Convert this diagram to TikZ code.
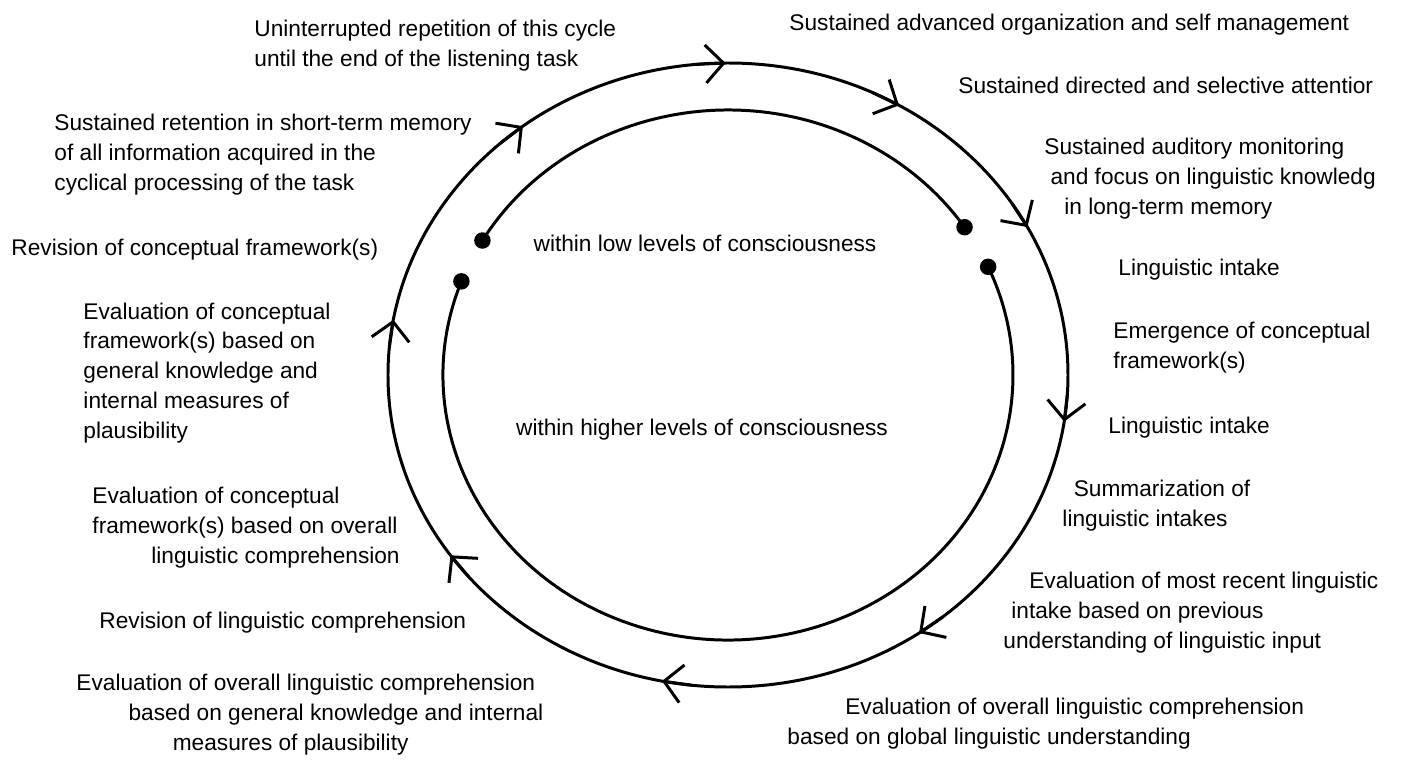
\documentclass[tikz,border=0pt]{standalone}
\usepackage{fontspec}
\setmainfont{Liberation Sans}
\usetikzlibrary{arrows.meta}

\tikzset{
  note/.style={font=\fontsize{12.9}{17}\selectfont, inner sep=0pt, align=left, anchor=west},
  dot/.style={circle, fill, inner sep=0pt, minimum size=3.3mm},
  flow/.style={-{Straight Barb[length=3.6mm, width=7.6mm]}},
}

\begin{document}
\begin{tikzpicture}[x=0.2mm, y=0.2mm, line width=1.7pt, line cap=round]

  \useasboundingbox (-728, 375) rectangle (675, -385);

  % Outer cycle
  \draw (0, 0) coordinate (orig) ellipse [x radius=340, y radius=312];
  \foreach \a in {90.4, 59.8, 28.3, -8.6, -55.8, -101.2, -144.7, 169.8, 127.1}
    \draw[flow] (\a+5:340 and 312) -- (\a:340 and 312);

  % Inner cycles
  \node[dot] (lowA) at (149.5:285 and 265) {};
  \node[dot] (lowB) at (33.9:285 and 265) {};
  \node[dot] (highA) at (159.3:285 and 265) {};
  \node[dot] (highB) at (24.1:285 and 265) {};
  \draw (lowA.center) arc[start angle=149.5, end angle=33.9, x radius=285, y radius=265];
  \draw (highA.center) arc[start angle=159.3, end angle=384.1, x radius=285, y radius=265];

  \node[note, anchor=center] (low) at (-23, 132) {within low levels of consciousness};
  \node[note, anchor=center] (higher) at (-26, -55) {within higher levels of consciousness};

  % Left side
  \node[note] (repeat) at (-475, 329) {Uninterrupted repetition of this cycle\\until the end of the listening task};
  \node[note] (retain) at (-675, 220) {Sustained retention in short-term memory\\of all information acquired in the\\cyclical processing of the task};
  \node[note] (revconc) at (-718, 125) {Revision of conceptual framework(s)};
  \node[note] (evalgen) at (-646, 2) {Evaluation of conceptual\\framework(s) based on\\general knowledge and\\internal measures of\\plausibility};
  \node[note] (evalcomp) at (-637, -153) {Evaluation of conceptual\\framework(s) based on overall\\\hspace*{2.6em}linguistic comprehension};
  \node[note] (revling) at (-630, -248) {Revision of linguistic comprehension};
  \node[note] (evalplaus) at (-653, -340) {Evaluation of overall linguistic comprehension\\\hspace*{2.3em}based on general knowledge and internal\\\hspace*{4.25em}measures of plausibility};

  % Right side
  \node[note] (advanced) at (60, 350) {Sustained advanced organization and self management};
  \node[note] (directed) at (229, 290) {Sustained directed and selective attentior};
  \node[note] (auditory) at (315, 196) {Sustained auditory monitoring\\\hspace*{0.27em}and focus on linguistic knowledg\\\hspace*{0.88em}in long-term memory};
  \node[note] (intakeA) at (389, 105) {Linguistic intake};
  \node[note] (emerge) at (384, 27) {Emergence of conceptual\\framework(s)};
  \node[note] (intakeB) at (379, -53) {Linguistic intake};
  \node[note] (summary) at (333, -131) {\hspace*{0.5em}Summarization of\\linguistic intakes};
  \node[note] (recent) at (274, -238) {\hspace*{1.14em}Evaluation of most recent linguistic\\\hspace*{0.35em}intake based on previous\\understanding of linguistic input};
  \node[note] (global) at (58, -349) {\hspace*{2.55em}Evaluation of overall linguistic comprehension\\based on global linguistic understanding};

\end{tikzpicture}
\end{document}
